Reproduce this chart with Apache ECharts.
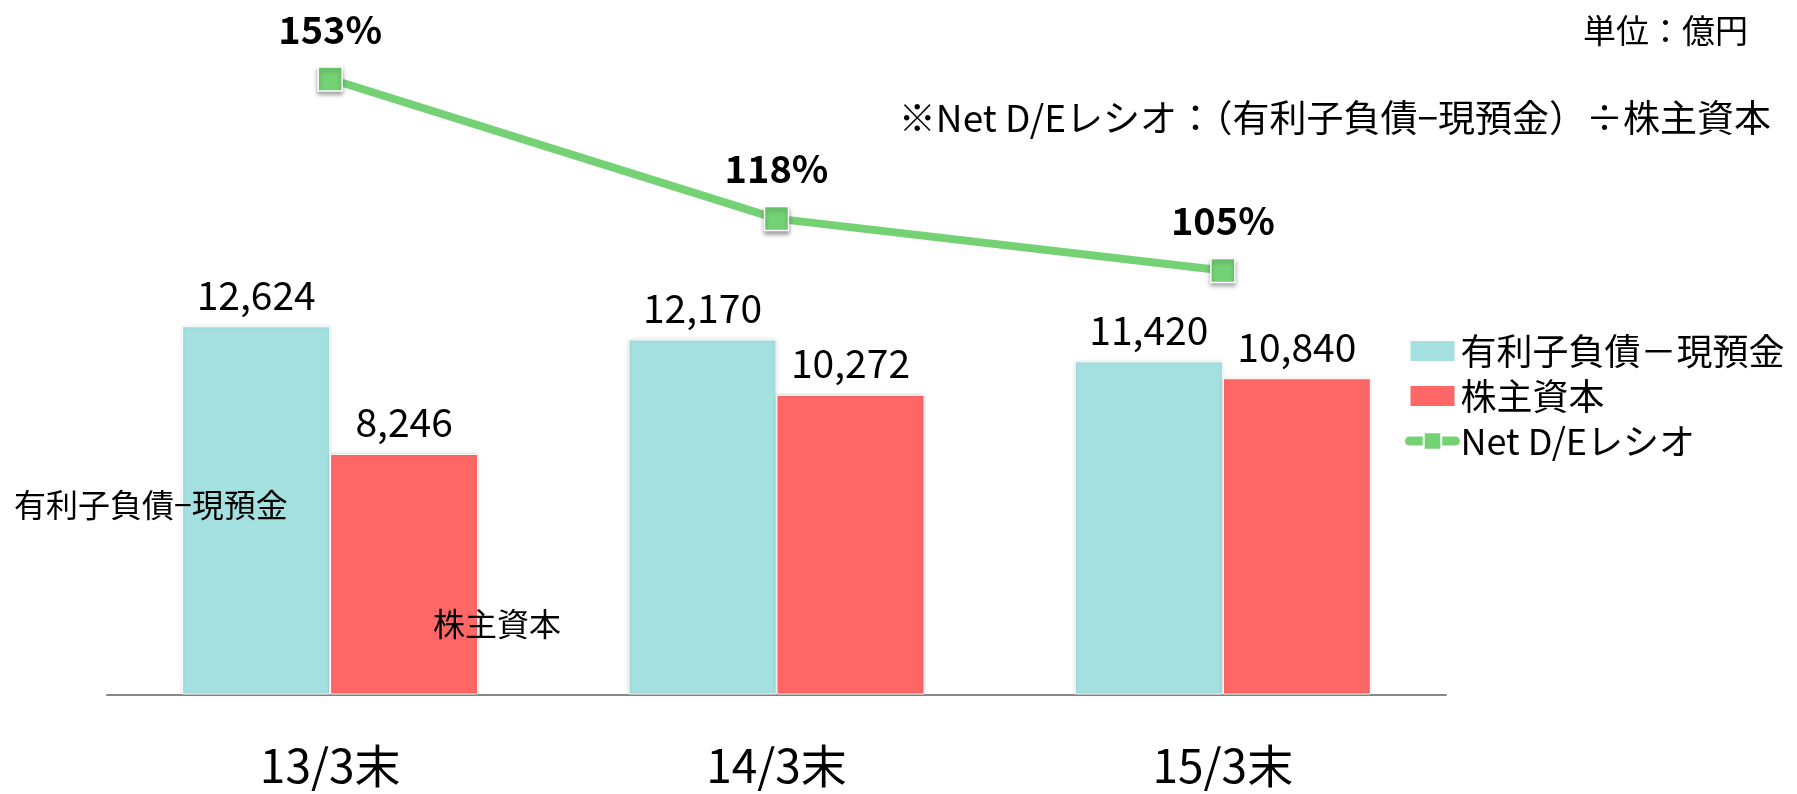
<!DOCTYPE html>
<html>
<head>
<meta charset="utf-8">
<script src="https://cdn.jsdelivr.net/npm/echarts@6/dist/echarts.min.js"></script>
<style>
  html, body { margin: 0; padding: 0; background: #fff; }
  #chart { width: 1797px; height: 794px; }
</style>
</head>
<body>
<div id="chart"></div>
<script>
var categories = ['13/3末', '14/3末', '15/3末'];
var netDebt = [12624, 12170, 11420];
var equity = [8246, 10272, 10840];
var deRatio = [153, 118, 105];
var seriesNames = ['有利子負債－現預金', '株主資本', 'Net D/Eレシオ'];

var FONT = '"Noto Sans CJK JP", "Noto Sans", sans-serif';

var chartDom = document.getElementById('chart');
var myChart = echarts.init(chartDom);

var barLabel = {
    show: true,
    position: 'top',
    distance: 12,
    fontSize: 39,
    fontFamily: FONT,
    color: '#000',
    formatter: function (p) { return p.value.toLocaleString('en-US'); }
};

var option = {
    backgroundColor: '#fff',
    animation: false,
    textStyle: { fontFamily: FONT },
    grid: { left: 107, right: 351, top: 79, bottom: 99.5, containLabel: false },
    legend: {
        orient: 'vertical',
        left: 1400,
        top: 328,
        itemWidth: 46,
        itemHeight: 22,
        itemGap: 9,
        textStyle: { fontSize: 36, color: '#000', fontFamily: FONT },
        data: [
            { name: seriesNames[0], icon: 'rect' },
            { name: seriesNames[1], icon: 'rect' },
            { name: seriesNames[2], lineStyle: { width: 9, cap: 'round' } }
        ]
    },
    xAxis: {
        type: 'category',
        data: categories,
        axisTick: { show: false },
        axisLine: { lineStyle: { color: '#888', width: 2 } },
        axisLabel: { fontSize: 46, color: '#000', margin: 48, fontFamily: FONT }
    },
    yAxis: [
        { type: 'value', min: 0, max: 21100, show: false, splitLine: { show: false } },
        { type: 'value', min: -1.3, max: 153, show: false, splitLine: { show: false } }
    ],
    series: [
        {
            name: seriesNames[0],
            type: 'bar',
            data: netDebt,
            barWidth: 148,
            barGap: '0%',
            itemStyle: {
                color: '#A5E0E0',
                borderColor: '#fff',
                borderWidth: 1,
                shadowColor: 'rgba(0,0,0,0.18)',
                shadowBlur: 3
            },
            label: barLabel
        },
        {
            name: seriesNames[1],
            type: 'bar',
            data: equity,
            barWidth: 148,
            barGap: '0%',
            itemStyle: {
                color: '#FF6666',
                borderColor: '#fff',
                borderWidth: 1,
                shadowColor: 'rgba(0,0,0,0.18)',
                shadowBlur: 3
            },
            label: barLabel
        },
        {
            name: seriesNames[2],
            type: 'line',
            yAxisIndex: 1,
            data: deRatio,
            clip: false,
            z: 5,
            symbol: 'rect',
            symbolSize: 24,
            lineStyle: { color: '#74D274', width: 8 },
            itemStyle: {
                color: '#74D274',
                borderColor: '#fff',
                borderWidth: 1.5,
                shadowColor: 'rgba(0,0,0,0.35)',
                shadowBlur: 4,
                shadowOffsetY: 3
            },
            label: {
                show: true,
                position: 'top',
                distance: 18,
                fontSize: 38,
                fontWeight: 'bold',
                color: '#000',
                fontFamily: FONT,
                formatter: '{c}%'
            }
        }
    ],
    graphic: [
        {
            type: 'text', right: 49, top: 14, z: 100,
            style: { text: '単位：億円', font: '33px ' + FONT, fill: '#000' }
        },
        {
            type: 'text', right: 26, top: 99, z: 100,
            style: { text: '※Net D/Eレシオ：（有利子負債−現預金）÷株主資本', font: '37px ' + FONT, fill: '#000' }
        },
        {
            type: 'text', left: 14, top: 489, z: 100,
            style: { text: '有利子負債−現預金', font: '32px ' + FONT, fill: '#000' }
        },
        {
            type: 'text', left: 433, top: 608, z: 100,
            style: { text: '株主資本', font: '32px ' + FONT, fill: '#000' }
        }
    ]
};

myChart.setOption(option);
</script>
</body>
</html>
